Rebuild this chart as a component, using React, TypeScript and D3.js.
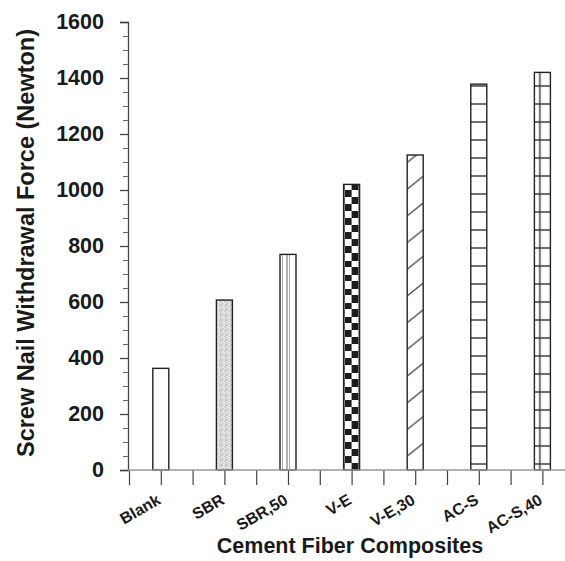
import React, { useRef, useEffect } from 'react';
import * as d3 from 'd3';

// data
const categories = ['Blank', 'SBR', 'SBR,50', 'V-E', 'V-E,30', 'AC-S', 'AC-S,40'];
const forces = [363, 607, 770, 1020, 1125, 1378, 1420];
const fills = ['plain', 'stipple', 'vlines', 'checker', 'diag', 'hlines', 'grid'];
const yTicks = [0, 200, 400, 600, 800, 1000, 1200, 1400, 1600];
const yMinorTicks = d3.range(0, 1601, 50).filter((v) => v % 200 !== 0);

const W = 565;
const H = 561;
const FONT = '"Liberation Sans", Arial, Helvetica, sans-serif';

export default function App() {
  const xAxisEl = useRef<SVGGElement>(null);
  const yAxisEl = useRef<SVGGElement>(null);
  const yMinorEl = useRef<SVGGElement>(null);

  const y = d3.scaleLinear().domain([0, 1600]).range([470, 22]);
  const x = d3.scaleLinear().domain([0, 14]).range([129, 129 + 14 * 31.8]);
  const barW = 16;

  useEffect(() => {
    const yAxis = d3
      .axisLeft(y)
      .tickValues(yTicks)
      .tickSize(8)
      .tickPadding(16)
      .tickFormat(d3.format('d'));
    const gy = d3.select(yAxisEl.current!);
    gy.selectAll('*').remove();
    gy.call(yAxis);
    gy.select('.domain').attr('stroke', '#444').attr('stroke-width', 1.3);
    gy.selectAll('.tick line').attr('stroke', '#444').attr('stroke-width', 1.3);
    gy.selectAll('.tick text')
      .attr('fill', '#1a1a1a')
      .style('font-family', FONT)
      .style('font-weight', 'bold')
      .style('font-size', '21.5px');

    const gm = d3.select(yMinorEl.current!);
    gm.selectAll('*').remove();
    gm.call(d3.axisLeft(y).tickValues(yMinorTicks).tickSize(5).tickFormat(() => ''));
    gm.select('.domain').remove();
    gm.selectAll('.tick line').attr('stroke', '#666').attr('stroke-width', 1);

    const gx = d3.select(xAxisEl.current!);
    gx.selectAll('*').remove();
    gx.call(d3.axisBottom(x).tickValues(d3.range(0, 14)).tickSize(15).tickFormat(() => ''));
    gx.select('.domain').remove();
    gx.selectAll('.tick line').attr('stroke', '#444').attr('stroke-width', 1.2);
    gx.append('line')
      .attr('x1', x(0) - 1)
      .attr('x2', x(14))
      .attr('y1', 0)
      .attr('y2', 0)
      .attr('stroke', '#999')
      .attr('stroke-width', 1.5);

    return () => {
      gy.selectAll('*').remove();
      gm.selectAll('*').remove();
      gx.selectAll('*').remove();
    };
  }, []);

  const patternFor = (kind: string, i: number, bx: number) => {
    const id = `p${i}`;
    const base = y(0);
    if (kind === 'stipple') {
      return (
        <pattern id={id} key={id} patternUnits="userSpaceOnUse" x={bx} y={0} width={5} height={5}>
          <rect width={5} height={5} fill="#e2e2e2" />
          <rect x={0} y={0} width={1} height={1} fill="#999" />
          <rect x={3} y={1} width={1} height={1} fill="#aaa" />
          <rect x={1} y={3} width={1} height={1} fill="#b0b0b0" />
          <rect x={4} y={4} width={1} height={1} fill="#999" />
          <rect x={2} y={2} width={1} height={1} fill="#fafafa" />
          <rect x={4} y={2} width={1} height={1} fill="#bbb" />
        </pattern>
      );
    }
    if (kind === 'vlines') {
      return (
        <pattern id={id} key={id} patternUnits="userSpaceOnUse" x={bx} y={0} width={barW} height={10}>
          <rect width={barW} height={10} fill="#fff" />
          <line x1={2.5} x2={2.5} y1={0} y2={10} stroke="#aaa" strokeWidth={1} />
          <line x1={7} x2={7} y1={0} y2={10} stroke="#666" strokeWidth={1} />
          <line x1={9.5} x2={9.5} y1={0} y2={10} stroke="#aaa" strokeWidth={1} />
        </pattern>
      );
    }
    if (kind === 'checker') {
      return (
        <pattern id={id} key={id} patternUnits="userSpaceOnUse" x={bx + 1} y={base} width={14} height={14}>
          <rect width={14} height={14} fill="#fff" />
          <rect x={0} y={0} width={7} height={7} fill="#1e1e1e" />
          <rect x={7} y={7} width={7} height={7} fill="#1e1e1e" />
        </pattern>
      );
    }
    if (kind === 'diag') {
      return (
        <pattern id={id} key={id} patternUnits="userSpaceOnUse" x={bx} y={base} width={barW} height={26.7}>
          <rect width={barW} height={26.7} fill="#fff" />
          <line x1={0} y1={13} x2={barW} y2={0} stroke="#333" strokeWidth={1.2} />
        </pattern>
      );
    }
    if (kind === 'hlines' || kind === 'grid') {
      return (
        <pattern id={id} key={id} patternUnits="userSpaceOnUse" x={bx} y={base} width={barW} height={18}>
          <rect width={barW} height={18} fill="#fff" />
          <line x1={0} x2={barW} y1={12} y2={12} stroke="#333" strokeWidth={1.4} />
          {kind === 'grid' && (
            <line x1={5.5} x2={5.5} y1={0} y2={18} stroke="#333" strokeWidth={1.4} />
          )}
        </pattern>
      );
    }
    return null;
  };

  return (
    <svg
      width={W}
      height={H}
      style={{ position: 'absolute', left: 0, top: 0, background: '#fff' }}
    >
      <defs>
        {categories.map((c, i) => patternFor(fills[i], i, x(2 * i + 1) - barW / 2))}
      </defs>
      <rect width={W} height={H} fill="#fff" />
      <g ref={yMinorEl} transform={`translate(${x(0) - 1},0)`}></g>
      <g ref={yAxisEl} transform={`translate(${x(0) - 1},0)`}></g>
      <g>
        {categories.map((c, i) => {
          const bx = x(2 * i + 1) - barW / 2;
          return (
            <rect
              key={c}
              x={bx}
              y={y(forces[i])}
              width={barW}
              height={y(0) - y(forces[i])}
              fill={fills[i] === 'plain' ? '#fff' : `url(#p${i})`}
              stroke="#222"
              strokeWidth={1.4}
            />
          );
        })}
      </g>
      <g ref={xAxisEl} transform={`translate(0,${y(0)})`}></g>
      <g style={{ fontFamily: FONT, fontWeight: 'bold' }} fill="#1a1a1a">
        {categories.map((c, i) => (
          <text
            key={c}
            x={x(2 * i + 1) + 1}
            y={503}
            fontSize={16}
            textAnchor="end"
            transform={`rotate(-30, ${x(2 * i + 1) + 1}, 503)`}
          >
            {c}
          </text>
        ))}
        <text x={350} y={553} fontSize={21.5} textAnchor="middle">
          Cement Fiber Composites
        </text>
        <text
          x={0}
          y={0}
          fontSize={23.5}
          textAnchor="middle"
          transform={`translate(34, 243) rotate(-90)`}
        >
          Screw Nail Withdrawal Force (Newton)
        </text>
      </g>
    </svg>
  );
}
